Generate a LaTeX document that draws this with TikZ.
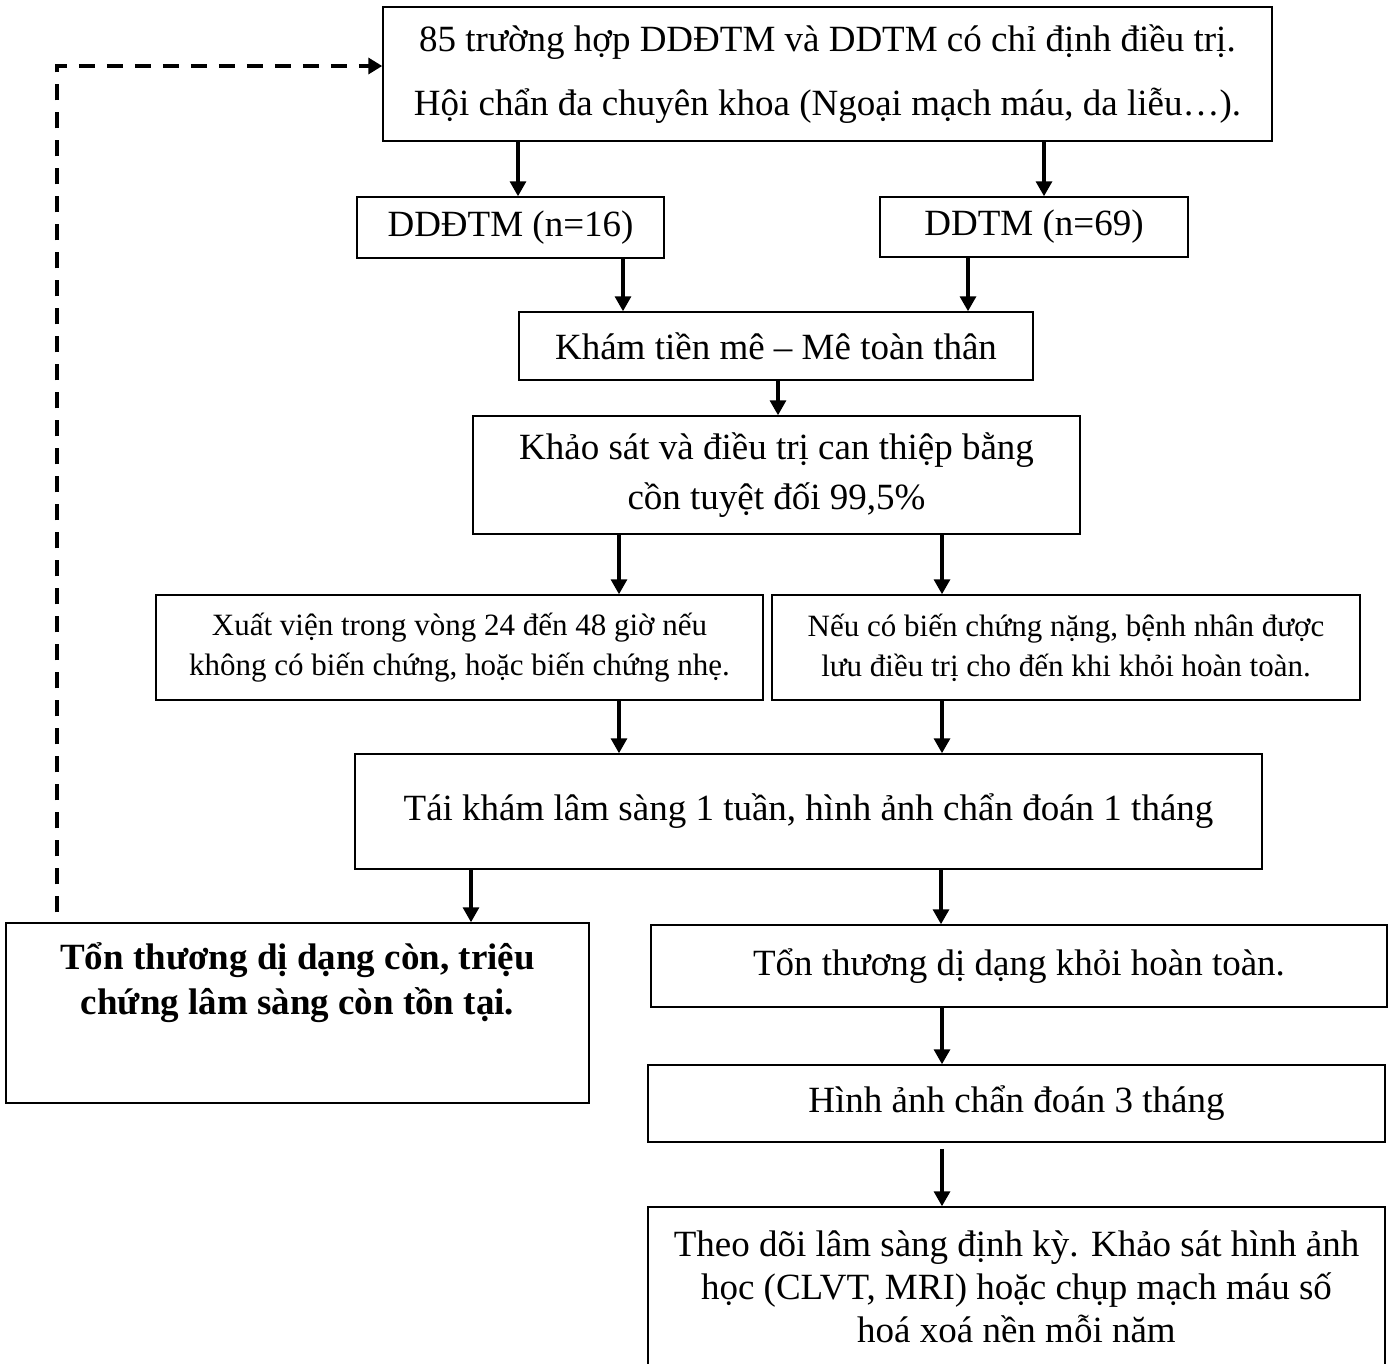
\documentclass[tikz,border=0pt]{standalone}
\usepackage{fontspec}
\setmainfont{Liberation Serif}
\usetikzlibrary{arrows.meta,positioning}

\begin{document}
\begin{tikzpicture}[x=1pt, y=-1pt, >={Triangle[length=15pt,width=16pt]},
	box/.style={draw, line width=1.5pt, inner sep=0pt, align=center, font=\fontsize{37}{44}\selectfont},
	nho/.style={box, font=\fontsize{31}{40}\selectfont},
	muiten/.style={->, line width=3.3pt},
	vong/.style={-{Triangle[length=14pt,width=16pt]}, line width=4pt, dash pattern=on 16pt off 12pt}]
	\useasboundingbox (0,0) rectangle (1395,1363);
	% cac o
	\node[box, minimum width=889pt, minimum height=134pt] (dau) at (827.5,74) {85 trường hợp DDĐTM và DDTM có chỉ định điều trị.\\[20pt]Hội chẩn đa chuyên khoa (Ngoại mạch máu, da liễu…).};
	\node[box, minimum width=307pt, minimum height=61pt] (dd1) at (510.5,227.5) {DDĐTM (n=16)};
	\node[box, minimum width=308pt, minimum height=60pt] (dd2) at (1034,227) {DDTM (n=69)};
	\node[box, minimum width=514pt, minimum height=68pt] (kham) at (776,346) {Khám tiền mê – Mê toàn thân};
	\node[box, minimum width=607pt, minimum height=118pt] (ks) at (776.5,475) {Khảo sát và điều trị can thiệp bằng\\[6pt]cồn tuyệt đối 99,5\%};
	\node[nho, minimum width=607pt, minimum height=105pt] (xv) at (459.5,647.5) {Xuất viện trong vòng 24 đến 48 giờ nếu\\không có biến chứng, hoặc biến chứng nhẹ.};
	\node[nho, minimum width=588pt, minimum height=105pt] (luu) at (1066,647.5) {Nếu có biến chứng nặng, bệnh nhân được\\lưu điều trị cho đến khi khỏi hoàn toàn.};
	\node[box, minimum width=907pt, minimum height=115pt] (tk) at (808.5,811.5) {Tái khám lâm sàng 1 tuần, hình ảnh chẩn đoán 1 tháng};
	\node[box, minimum width=583pt, minimum height=180pt] (con) at (297.5,1013) {};
	\node[inner sep=0pt, align=center, font=\fontsize{37}{45}\selectfont\bfseries, below=20pt of con.north] (contxt) {Tổn thương dị dạng còn, triệu\\chứng lâm sàng còn tồn tại.};
	\node[box, minimum width=736pt, minimum height=82pt] (khoi) at (1019,966) {Tổn thương dị dạng khỏi hoàn toàn.};
	\node[box, minimum width=737pt, minimum height=77pt] (ha) at (1016.5,1103.5) {Hình ảnh chẩn đoán 3 tháng};
	\node[box, minimum width=737pt, minimum height=160pt, font=\fontsize{37}{43}\selectfont] (td) at (1016.5,1287) {Theo dõi lâm sàng định kỳ. Khảo sát hình ảnh\\học (CLVT, MRI) hoặc chụp mạch máu số\\hoá xoá nền mỗi năm};
	% mui ten
	\foreach \tu/\den/\x in {dau/dd1/518, dau/dd2/1044, dd1/kham/623, dd2/kham/968, kham/ks/778, ks/xv/619, ks/luu/942, xv/tk/619, luu/tk/942, tk/con/471, tk/khoi/941, khoi/ha/942}
		\draw[muiten] (\tu.south -| \x,0) -- (\den.north -| \x,0);
	\draw[muiten, shorten <=6pt] (ha.south -| 942,0) -- (td.north -| 942,0);
	% quay lai
	\coordinate (goc) at (57,66);
	\draw[vong, shorten <=10pt] (con.north -| goc) |- (dau.west |- goc);
\end{tikzpicture}
\end{document}
